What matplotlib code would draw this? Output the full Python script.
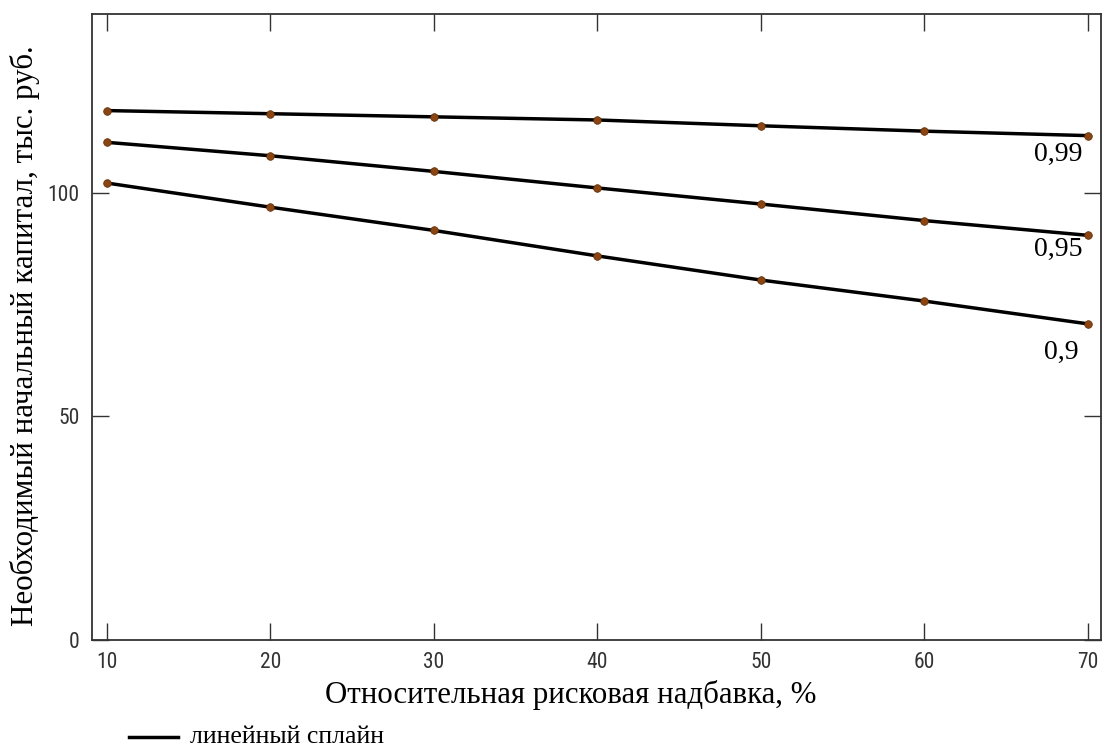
import matplotlib
matplotlib.use("Agg")
import matplotlib.pyplot as plt
from matplotlib import font_manager as fm

x = [10, 20, 30, 40, 50, 60, 70]
y_099 = [118.4, 117.7, 117.0, 116.3, 115.0, 113.8, 112.8]
y_095 = [111.3, 108.3, 104.8, 101.1, 97.5, 93.8, 90.5]
y_090 = [102.2, 96.8, 91.6, 85.9, 80.5, 75.8, 70.7]
series = [("0,99", y_099), ("0,95", y_095), ("0,9", y_090)]
xticks = [10, 20, 30, 40, 50, 60, 70]
yticks = [0, 50, 100]

names = {f.name for f in fm.fontManager.ttflist}
tick_font, tick_stretch = "DejaVu Sans", "condensed"
for cand in ["Liberation Sans Narrow", "Roboto Condensed", "Open Sans Condensed", "DejaVu Sans Condensed"]:
    if cand in names:
        tick_font, tick_stretch = cand, "normal"
        break
serif = "Liberation Serif"

fig = plt.figure(figsize=(11.05, 7.51), dpi=100)
ax = fig.add_axes([92/1105, 111/751, (1101-92)/1105, (640-14)/751])

for lab, ys in series:
    ax.plot(x, ys, color="black", lw=2.5, zorder=2)
    ax.plot(x, ys, ls="none", marker="o", ms=5.5, mfc="#8B4513", mec="#5a2a00", mew=0.5, zorder=3)

label_pos = {"0,99": (66.7, 108.6), "0,95": (66.7, 87.4), "0,9": (67.3, 64.4)}
for lab, ys in series:
    ax.text(*label_pos[lab], lab, family=serif, fontsize=20, ha="left", va="center")

ax.set_xlim(9.1, 70.8)
ax.set_ylim(0, 140)
ax.set_xticks(xticks)
ax.set_yticks(yticks)
ax.tick_params(direction="in", length=12, width=1, top=True, right=True,
               labelsize=15.5, pad=9, colors="#333333")
for t in ax.get_xticklabels() + ax.get_yticklabels():
    t.set_family(tick_font)
    t.set_stretch(tick_stretch)
for s in ax.spines.values():
    s.set_linewidth(1.3)
    s.set_color("#333333")

ax.set_xlabel("Относительная рисковая надбавка, %", family=serif, fontsize=22.2, va="center")
ax.xaxis.set_label_coords(0.474, -0.088)
ax.set_ylabel("Необходимый начальный капитал, тыс. руб.", family=serif, fontsize=22.3, va="center")
ax.yaxis.set_label_coords(-0.0664, 0.4856)

fig.lines.append(plt.Line2D([129/1105, 178/1105], [1-737/751]*2, color="black", lw=2.5,
                            transform=fig.transFigure))
fig.text(190/1105, 1-737/751, "линейный сплайн", family=serif, fontsize=18.5, va="center")

fig.savefig("out.png", dpi=100)
